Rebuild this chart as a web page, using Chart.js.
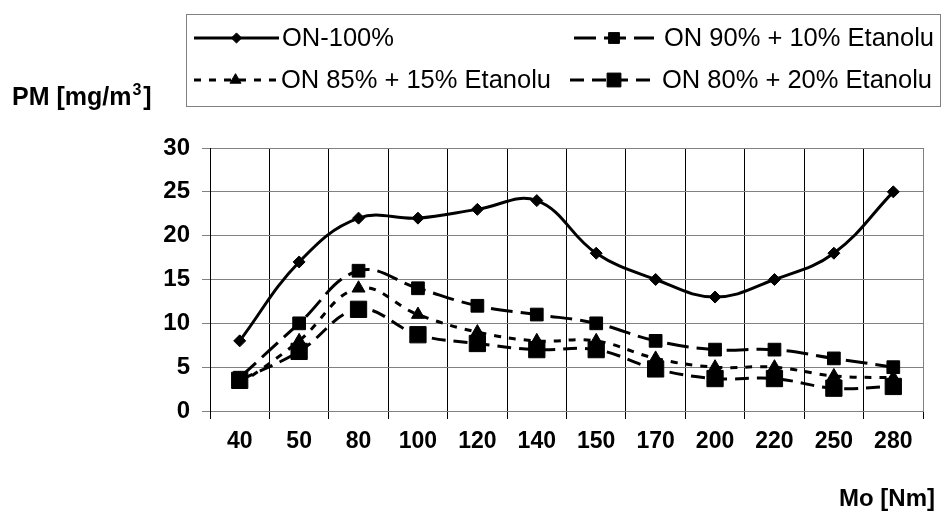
<!DOCTYPE html>
<html>
<head>
<meta charset="utf-8">
<script src="https://cdn.jsdelivr.net/npm/chart.js@4.4.1/dist/chart.umd.min.js"></script>
<style>
  html, body { margin: 0; padding: 0; background: #fff; }
  #wrap { position: relative; width: 942px; height: 521px; }
</style>
</head>
<body>
<div id="wrap"><canvas id="myChart" width="942" height="521"></canvas></div>
<script>
// data
const TORQUE = ["40", "50", "80", "100", "120", "140", "150", "170", "200", "220", "250", "280"];
const PM_ON100 = [8, 17, 22, 22, 23, 24, 18, 15, 13, 15, 18, 25];
const PM_ON90 = [3.8, 10, 16, 14, 12, 11, 10, 8, 7, 7, 6, 5];
const PM_ON85 = [3, 8, 14, 11, 9, 8, 8, 6, 5, 5, 4, 3.8];
const PM_ON80 = [3.5, 6.8, 11.6, 8.7, 7.7, 7, 7, 4.8, 3.7, 3.7, 2.6, 2.8];
const Y_TICKS = [0, 5, 10, 15, 20, 25, 30];
const SERIES_LABELS = ["ON-100%", "ON 90% + 10% Etanolu", "ON 85% + 15% Etanolu", "ON 80% + 20% Etanolu"];

const ARIAL = "'Liberation Sans', Arial, sans-serif";
const GRID_GRAY = '#808080';

// where each legend entry sits: sample from x0 to x1, text at tx, row y
const LEGEND_SLOTS = [
  { x0: 194, x1: 279, tx: 282, y: 38 },
  { x0: 574, x1: 654, tx: 664, y: 38 },
  { x0: 194, x1: 277, tx: 281, y: 80 },
  { x0: 570, x1: 658, tx: 662, y: 80 },
];

// legend drawn by hand: line sample + marker + text, like the old excel legend
const legendPlugin = {
  id: 'boxLegend',
  afterDraw(chart) {
    const ctx = chart.ctx;
    ctx.save();
    ctx.strokeStyle = GRID_GRAY;
    ctx.lineWidth = 1;
    ctx.strokeRect(186.5, 14.5, 754, 92);

    chart.data.datasets.forEach((ds, i) => {
      const s = LEGEND_SLOTS[i];
      ctx.save();
      ctx.strokeStyle = ds.borderColor;
      ctx.lineWidth = ds.borderWidth;
      ctx.setLineDash(ds.borderDash || []);
      ctx.beginPath();
      ctx.moveTo(s.x0, s.y);
      ctx.lineTo(s.x1, s.y);
      ctx.stroke();
      ctx.setLineDash([]);
      ctx.fillStyle = '#000';
      ctx.lineWidth = 1;
      Chart.helpers.drawPoint(ctx, { pointStyle: ds.pointStyle, radius: ds.pointRadius * 0.85, rotation: 0, borderWidth: 1 }, (s.x0 + s.x1) / 2, s.y);
      ctx.restore();

      ctx.fillStyle = '#000';
      ctx.font = '25.5px ' + ARIAL;
      ctx.textAlign = 'left';
      ctx.textBaseline = 'middle';
      ctx.fillText(ds.label, s.tx, s.y + 1);
    });
    ctx.restore();
  }
};

// axis titles: PM at top left (horizontal, with superscript), Mo at bottom right
const titlesPlugin = {
  id: 'axisTitles',
  afterDraw(chart) {
    const ctx = chart.ctx;
    ctx.save();
    ctx.fillStyle = '#000';
    ctx.textAlign = 'left';
    ctx.textBaseline = 'alphabetic';
    ctx.font = 'bold 25px ' + ARIAL;
    let x = 12;
    const base = 105;
    ctx.fillText('PM [mg/m', x, base);
    x += ctx.measureText('PM [mg/m').width;
    ctx.font = 'bold 16px ' + ARIAL;
    ctx.fillText('3', x + 1, base - 10);
    x += ctx.measureText('3').width + 3;
    ctx.font = 'bold 25px ' + ARIAL;
    ctx.fillText(']', x, base);

    ctx.textAlign = 'right';
    ctx.font = 'bold 24px ' + ARIAL;
    ctx.fillText('Mo [Nm]', 935, 506);
    ctx.restore();
  }
};

const datasets = [
  {
    label: SERIES_LABELS[0],
    data: PM_ON100,
    borderColor: '#000',
    backgroundColor: '#000',
    borderWidth: 3,
    borderDash: [],
    pointStyle: 'rectRot',
    pointRadius: 6,
  },
  {
    label: SERIES_LABELS[1],
    data: PM_ON90,
    borderColor: '#000',
    backgroundColor: '#000',
    borderWidth: 3,
    borderDash: [22, 8],
    pointStyle: 'rect',
    pointRadius: 9,
  },
  {
    label: SERIES_LABELS[2],
    data: PM_ON85,
    borderColor: '#000',
    backgroundColor: '#000',
    borderWidth: 3,
    borderDash: [7, 8],
    pointStyle: 'triangle',
    pointRadius: 7.5,
  },
  {
    label: SERIES_LABELS[3],
    data: PM_ON80,
    borderColor: '#000',
    backgroundColor: '#000',
    borderWidth: 3,
    borderDash: [14, 8],
    pointStyle: 'rect',
    pointRadius: 11.5,
  },
];

datasets.forEach(ds => {
  ds.tension = 0.4;
  ds.pointBorderColor = '#000';
  ds.pointBackgroundColor = '#000';
  ds.pointBorderWidth = 1;
  ds.fill = false;
});

const ctx = document.getElementById('myChart').getContext('2d');
const chart = new Chart(ctx, {
  type: 'line',
  data: { labels: TORQUE, datasets: datasets },
  plugins: [legendPlugin, titlesPlugin],
  options: {
    responsive: false,
    animation: false,
    layout: { padding: { top: 148, right: 19, left: 0, bottom: 0 } },
    scales: {
      x: {
        offset: true,
        grid: {
          offset: true,
          color: (c) => c.tick ? '#000' : GRID_GRAY,
          tickColor: '#000',
          tickLength: 8,
          lineWidth: 1,
        },
        border: { color: GRID_GRAY, width: 1 },
        ticks: {
          autoSkip: false,
          maxRotation: 0,
          padding: 9,
          color: '#000',
          font: { family: ARIAL, size: 23, weight: 'bold' },
        },
        afterFit: (s) => { s.height = 110; },
      },
      y: {
        min: 0,
        max: 30,
        afterBuildTicks: (s) => { s.ticks = Y_TICKS.map(v => ({ value: v })); },
        grid: { color: GRID_GRAY, tickColor: GRID_GRAY, tickLength: 8 },
        border: { color: '#000', width: 1 },
        ticks: {
          padding: 12,
          color: '#000',
          font: { family: ARIAL, size: 24, weight: 'bold' },
        },
        afterFit: (s) => { s.width = 210; },
      },
    },
    plugins: {
      legend: { display: false },
      tooltip: { enabled: false },
      title: { display: false },
    },
  },
});
</script>
</body>
</html>
